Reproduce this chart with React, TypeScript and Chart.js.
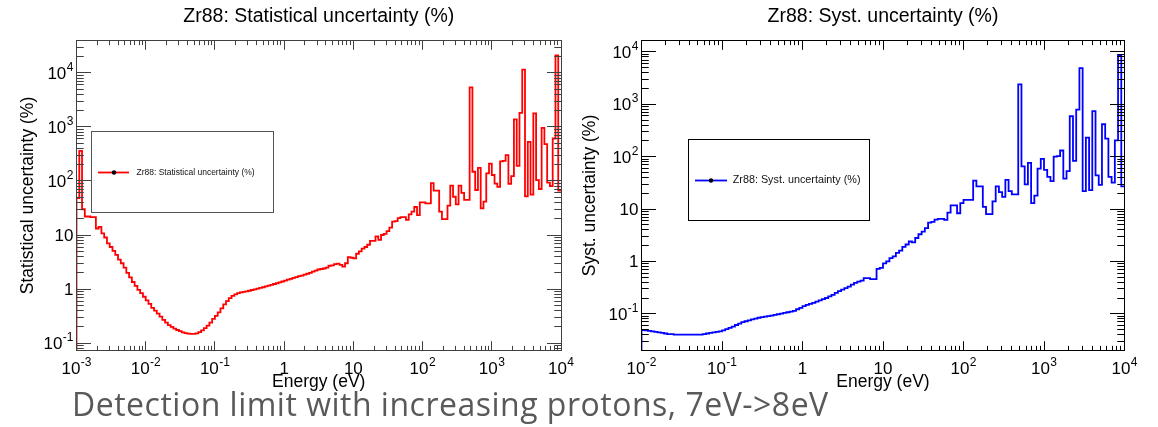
import React, { useEffect, useRef } from 'react';
import { Chart, registerables } from 'chart.js';

Chart.register(...registerables);

// ------------------------------------------------------------------
// Data
// ------------------------------------------------------------------
const BINS_PER_DECADE = 25; // logarithmic energy bins
const STAT_FIRST_EXP = -3; // left histogram starts at 1e-3 eV
const SYST_FIRST_EXP = -2; // right histogram starts at 1e-2 eV

const STAT_TITLE = 'Zr88: Statistical uncertainty (%)';
const SYST_TITLE = 'Zr88: Syst. uncertainty (%)';
const STAT_Y_TITLE = 'Statistical uncertainty (%)';
const SYST_Y_TITLE = 'Syst. uncertainty (%)';
const X_AXIS_TITLE = 'Energy (eV)';
const CAPTION = 'Detection limit with increasing protons, 7eV->8eV';

// statistical uncertainty (%) per bin, one decade per row
const STAT_VALUES = [
  48, 360, 30, 22, 22, 21.5, 21.5, 13.2, 14.2, 10.7, 9.0, 7.0, 6.0, 5.1, 4.3, 3.5, 3.0, 2.5, 2.0, 1.65, 1.35, 1.15, 0.97, 0.84, 0.72,
  0.62, 0.53, 0.45, 0.40, 0.35, 0.31, 0.27, 0.24, 0.215, 0.20, 0.186, 0.175, 0.166, 0.158, 0.153, 0.150, 0.148, 0.148, 0.152, 0.160, 0.172, 0.19, 0.21, 0.24, 0.28,
  0.32, 0.37, 0.44, 0.52, 0.60, 0.68, 0.75, 0.80, 0.84, 0.87, 0.89, 0.91, 0.93, 0.96, 0.99, 1.02, 1.05, 1.08, 1.12, 1.16, 1.20, 1.24, 1.28, 1.33, 1.38,
  1.43, 1.49, 1.55, 1.61, 1.67, 1.73, 1.78, 1.85, 1.92, 2.0, 2.1, 2.2, 2.3, 2.35, 2.4, 2.5, 2.7, 2.75, 2.9, 2.95, 2.8, 2.6, 3.0, 3.9, 3.8,
  3.7, 4.5, 5.0, 5.6, 6.0, 6.6, 7.8, 7.8, 9.4, 8.1, 10, 10.5, 11.8, 13.7, 17.7, 18, 20.5, 21.5, 21.5, 19, 24, 27, 33, 23.4, 40,
  40, 38.5, 38.5, 91, 66, 66, 27, 19.6, 19.6, 35, 82, 51, 37, 82, 60, 44.6, 44.6, 5400, 148, 68, 174, 31, 41.5, 138, 210,
  129, 89, 78, 230, 235, 300, 88, 123, 1380, 190, 1820, 11500, 52, 530, 56, 1780, 104, 71, 960, 480, 93, 80, 610, 21000, 66,
];

// systematic uncertainty (%) per bin, one decade per row
const SYST_VALUES = [
  0.049, 0.048, 0.047, 0.046, 0.045, 0.044, 0.043, 0.042, 0.041, 0.041, 0.040, 0.040, 0.040, 0.040, 0.040, 0.040, 0.040, 0.040, 0.040, 0.041, 0.042, 0.043, 0.044, 0.045, 0.046,
  0.048, 0.051, 0.054, 0.057, 0.061, 0.065, 0.069, 0.072, 0.075, 0.078, 0.081, 0.084, 0.086, 0.088, 0.090, 0.092, 0.095, 0.098, 0.101, 0.104, 0.107, 0.110, 0.114, 0.122, 0.130,
  0.140, 0.148, 0.155, 0.162, 0.170, 0.180, 0.190, 0.20, 0.215, 0.23, 0.25, 0.27, 0.29, 0.31, 0.33, 0.36, 0.39, 0.41, 0.43, 0.48, 0.48, 0.46, 0.46, 0.72, 0.75,
  0.92, 1.0, 1.15, 1.25, 1.45, 1.6, 1.9, 2.1, 2.4, 2.3, 2.8, 3.3, 3.7, 4.3, 5.5, 5.7, 6.3, 6.5, 6.5, 6.2, 8.5, 11.7, 11.7, 8.3, 13,
  15, 15, 15, 35, 27, 27, 11, 8, 8, 14, 27, 21, 17, 36, 22, 19, 19, 2400, 65, 29.5, 76, 13, 18, 59, 91,
  56, 41, 34, 100, 102, 131, 38, 53, 590, 83, 790, 4900, 22, 230, 23, 740, 44, 29, 415, 220, 41, 32, 205, 8600, 27,
];

// tick labels: decade exponents shown on each axis
const STAT_X_TICK_EXPS = [-3, -2, -1, 0, 1, 2, 3, 4];
const SYST_X_TICK_EXPS = [-2, -1, 0, 1, 2, 3, 4];
const STAT_Y_TICK_EXPS = [-1, 0, 1, 2, 3, 4];
const SYST_Y_TICK_EXPS = [-1, 0, 1, 2, 3, 4];

// axis ranges
const STAT_X_RANGE = [1e-3, 1e4];
const SYST_X_RANGE = [1e-2, 1e4];
const STAT_Y_RANGE = [0.073, 39700];
const SYST_Y_RANGE = [0.0199, 16500];

// ------------------------------------------------------------------
// Styling / layout
// ------------------------------------------------------------------
const FONT = "'Liberation Sans', Arial, Helvetica, sans-serif";
const H = 427;

function histogramPoints(values: number[], firstExp: number, baseline: number) {
  const edge = (i: number) => Math.pow(10, firstExp + i / BINS_PER_DECADE);
  const pts: { x: number; y: number }[] = [{ x: edge(0), y: baseline }];
  values.forEach((v, i) => pts.push({ x: edge(i), y: v }));
  pts.push({ x: edge(values.length), y: values[values.length - 1] });
  return pts;
}

function tickParts(exp: number) {
  if (exp === 0) return { base: '1', sup: '' };
  if (exp === 1) return { base: '10', sup: '' };
  return { base: '10', sup: String(exp) };
}

const rootStylePlugin = {
  id: 'rootStyle',
  afterDatasetsDraw(chart: any, _args: any, o: any) {
    const { ctx, chartArea: area } = chart;
    const xs = chart.scales.x;
    const ys = chart.scales.y;
    const L = Math.floor(area.left) + 0.5;
    const R = Math.floor(area.right) + 0.5;
    const T = Math.floor(area.top) + 0.5;
    const B = Math.floor(area.bottom) + 0.5;
    ctx.save();
    ctx.strokeStyle = o.axisColor;
    ctx.lineWidth = 1;
    ctx.strokeRect(L, T, R - L, B - T);
    ctx.beginPath();
    // x ticks (inside, bottom and top)
    for (let e = Math.floor(Math.log10(xs.min)); e <= Math.ceil(Math.log10(xs.max)); e++) {
      for (let m = 1; m <= 9; m++) {
        const v = m * Math.pow(10, e);
        if (v < xs.min * 0.9999 || v > xs.max * 1.0001) continue;
        const px = Math.floor(xs.getPixelForValue(v)) + 0.5;
        const len = m === 1 ? o.xTickLen : o.xTickLen / 2;
        ctx.moveTo(px, B); ctx.lineTo(px, B - len);
        ctx.moveTo(px, T); ctx.lineTo(px, T + len);
      }
    }
    // y ticks (inside, left and right)
    for (let e = Math.floor(Math.log10(ys.min)); e <= Math.ceil(Math.log10(ys.max)); e++) {
      for (let m = 1; m <= 9; m++) {
        const v = m * Math.pow(10, e);
        if (v < ys.min * 0.9999 || v > ys.max * 1.0001) continue;
        const py = Math.floor(ys.getPixelForValue(v)) + 0.5;
        const len = m === 1 ? o.yTickLen : o.yTickLen / 2;
        ctx.moveTo(L, py); ctx.lineTo(L + len, py);
        ctx.moveTo(R, py); ctx.lineTo(R - len, py);
      }
    }
    ctx.stroke();
    ctx.restore();
  },
  afterDraw(chart: any, _args: any, o: any) {
    const { ctx, chartArea: area } = chart;
    const xs = chart.scales.x;
    const ys = chart.scales.y;
    ctx.save();
    ctx.fillStyle = '#000';
    ctx.textBaseline = 'alphabetic';
    const baseFont = `${o.tickFont}px ${FONT}`;
    const supFont = `${o.supFont}px ${FONT}`;
    // x tick labels
    const xBase = area.bottom + 23;
    o.xTickExps.forEach((e: number) => {
      const { base, sup } = tickParts(e);
      ctx.font = baseFont;
      const wb = ctx.measureText(base).width;
      ctx.font = supFont;
      const ws = sup ? ctx.measureText(sup).width + 0.5 : 0;
      const cx = xs.getPixelForValue(Math.pow(10, e));
      const x0 = cx - (wb + ws) / 2;
      ctx.textAlign = 'left';
      ctx.font = baseFont;
      ctx.fillText(base, x0, xBase);
      if (sup) { ctx.font = supFont; ctx.fillText(sup, x0 + wb + 0.5, xBase - 8); }
    });
    // y tick labels
    o.yTickExps.forEach((e: number) => {
      const { base, sup } = tickParts(e);
      ctx.font = baseFont;
      const wb = ctx.measureText(base).width;
      ctx.font = supFont;
      const ws = sup ? ctx.measureText(sup).width + 0.5 : 0;
      const cy = ys.getPixelForValue(Math.pow(10, e));
      const xr = area.left - 3;
      const yb = cy + 6.1;
      ctx.textAlign = 'left';
      ctx.font = baseFont;
      ctx.fillText(base, xr - wb - ws, yb);
      if (sup) { ctx.font = supFont; ctx.fillText(sup, xr - ws + 0.5, yb - 8); }
    });
    // plot title
    ctx.font = `${o.titleFont}px ${FONT}`;
    ctx.textAlign = 'center';
    ctx.fillText(o.title, (area.left + area.right) / 2, 21.5);
    // legend box
    const lg = o.legend;
    const ds = chart.data.datasets[0];
    ctx.fillStyle = '#fff';
    ctx.fillRect(lg.x, lg.y, lg.w, lg.h);
    ctx.strokeStyle = lg.border;
    ctx.lineWidth = 1;
    ctx.strokeRect(lg.x, lg.y, lg.w, lg.h);
    ctx.strokeStyle = ds.borderColor;
    ctx.lineWidth = ds.borderWidth;
    ctx.beginPath();
    ctx.moveTo(lg.lineX0, lg.lineY);
    ctx.lineTo(lg.lineX1, lg.lineY);
    ctx.stroke();
    ctx.fillStyle = '#000';
    ctx.beginPath();
    ctx.arc(lg.markerX, lg.lineY, 2.2, 0, Math.PI * 2);
    ctx.fill();
    ctx.font = `${lg.fontSize}px ${FONT}`;
    ctx.textAlign = 'left';
    ctx.textBaseline = 'middle';
    ctx.fillStyle = '#111';
    ctx.fillText(ds.label, lg.textX, lg.lineY);
    ctx.restore();
  },
};

interface PanelSpec {
  left: number;
  width: number;
  areaLeft: number;
  padRight: number;
  areaTop: number;
  areaBottom: number;
  values: number[];
  firstExp: number;
  xRange: number[];
  yRange: number[];
  xTickExps: number[];
  yTickExps: number[];
  color: string;
  axisColor: string;
  title: string;
  yTitle: string;
  yTitlePad: number;
  legend: any;
}

const PANELS: PanelSpec[] = [
  {
    left: 0, width: 575, areaLeft: 76.5, padRight: 14, areaTop: 40.5, areaBottom: 350.5,
    values: STAT_VALUES, firstExp: STAT_FIRST_EXP, xRange: STAT_X_RANGE, yRange: STAT_Y_RANGE,
    xTickExps: STAT_X_TICK_EXPS, yTickExps: STAT_Y_TICK_EXPS,
    color: '#ff0000', axisColor: '#404040', title: STAT_TITLE, yTitle: STAT_Y_TITLE, yTitlePad: 17.5,
    legend: { x: 91.5, y: 131.5, w: 182, h: 81, lineX0: 98, lineX1: 129, lineY: 172.5, markerX: 114, textX: 136.5, fontSize: 8.5, border: '#555' },
  },
  {
    left: 575, width: 583, areaLeft: 66.5, padRight: 33.5, areaTop: 40.5, areaBottom: 350.5,
    values: SYST_VALUES, firstExp: SYST_FIRST_EXP, xRange: SYST_X_RANGE, yRange: SYST_Y_RANGE,
    xTickExps: SYST_X_TICK_EXPS, yTickExps: SYST_Y_TICK_EXPS,
    color: '#0000ff', axisColor: '#000', title: SYST_TITLE, yTitle: SYST_Y_TITLE, yTitlePad: 4.5,
    legend: { x: 113.5, y: 139.5, w: 181, h: 81, lineX0: 120, lineX1: 152, lineY: 180.5, markerX: 136, textX: 157.7, fontSize: 10.8, border: '#000' },
  },
];

function makeConfig(p: PanelSpec): any {
  return {
    type: 'line',
    data: {
      datasets: [
        {
          label: p.title,
          data: histogramPoints(p.values, p.firstExp, p.yRange[0]),
          borderColor: p.color,
          borderWidth: 1.8,
          pointRadius: 0,
          stepped: 'before',
          fill: false,
          tension: 0,
        },
      ],
    },
    options: {
      animation: false,
      responsive: false,
      maintainAspectRatio: false,
      events: [],
      layout: { padding: { top: p.areaTop, left: 0, right: p.padRight, bottom: 0 } },
      plugins: {
        legend: { display: false },
        tooltip: { enabled: false },
        title: { display: false },
        rootStyle: {
          axisColor: p.axisColor,
          xTickLen: 9.3,
          yTickLen: 14.5,
          tickFont: 17,
          supFont: 12,
          titleFont: 19.5,
          title: p.title,
          xTickExps: p.xTickExps,
          yTickExps: p.yTickExps,
          legend: p.legend,
        },
      },
      scales: {
        x: {
          type: 'logarithmic',
          min: p.xRange[0],
          max: p.xRange[1],
          grid: { display: false },
          border: { display: false },
          ticks: { display: false },
          title: {
            display: true,
            text: X_AXIS_TITLE,
            color: '#000',
            font: { family: FONT, size: 17.5 },
            padding: { top: 0, bottom: 34.5 },
          },
          afterBuildTicks: (s: any) => {
            s.ticks = p.xTickExps.map((e) => ({ value: Math.pow(10, e) }));
          },
          afterFit: (s: any) => {
            s.height = H - p.areaBottom;
          },
        },
        y: {
          type: 'logarithmic',
          min: p.yRange[0],
          max: p.yRange[1],
          grid: { display: false },
          border: { display: false },
          ticks: { display: false },
          title: {
            display: true,
            text: p.yTitle,
            color: '#000',
            font: { family: FONT, size: 17.5 },
            padding: { top: p.yTitlePad, bottom: 0 },
          },
          afterBuildTicks: (s: any) => {
            s.ticks = p.yTickExps.map((e) => ({ value: Math.pow(10, e) }));
          },
          afterFit: (s: any) => {
            s.width = p.areaLeft;
          },
        },
      },
    },
    plugins: [rootStylePlugin],
  };
}

function HistPanel({ spec }: { spec: PanelSpec }) {
  const ref = useRef<HTMLCanvasElement | null>(null);
  useEffect(() => {
    if (!ref.current) return;
    const chart = new Chart(ref.current, makeConfig(spec));
    return () => chart.destroy();
  }, [spec]);
  return (
    <canvas
      ref={ref}
      width={spec.width}
      height={H}
      style={{ position: 'absolute', left: spec.left, top: 0, width: spec.width, height: H }}
    />
  );
}

export default function App() {
  return (
    <div
      style={{
        position: 'absolute',
        left: 0,
        top: 0,
        width: 1158,
        height: H,
        overflow: 'hidden',
        background: '#fff',
      }}
    >
      {PANELS.map((p, i) => (
        <HistPanel key={i} spec={p} />
      ))}
      <div
        style={{
          position: 'absolute',
          left: 72,
          top: 387.5,
          fontFamily: "'Open Sans', sans-serif",
          fontSize: 32,
          letterSpacing: 0.5,
          lineHeight: 1,
          color: '#595959',
          whiteSpace: 'nowrap',
        }}
      >
        {CAPTION}
      </div>
    </div>
  );
}
